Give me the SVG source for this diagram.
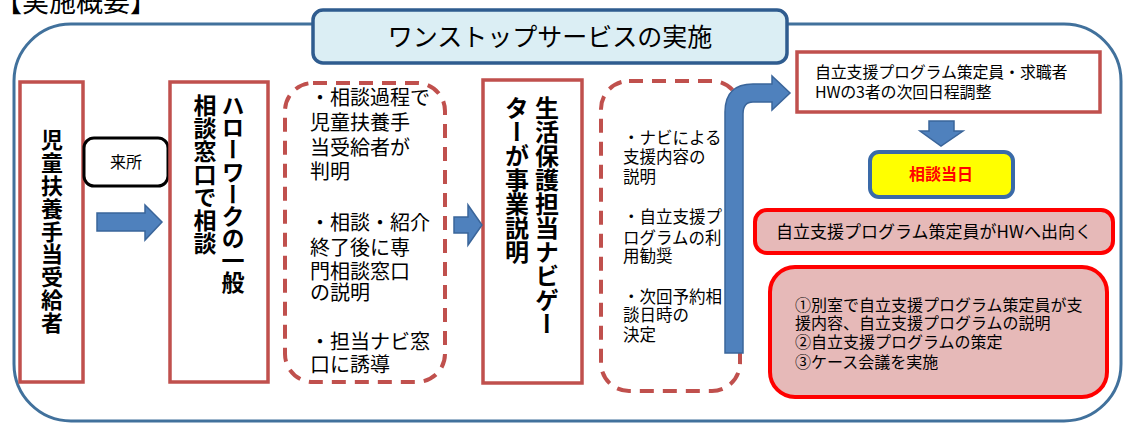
<svg xmlns="http://www.w3.org/2000/svg" width="1126" height="423" viewBox="0 0 1126 423">
<style>
text{font-family:"Noto Sans CJK JP","Noto Sans",sans-serif;fill:#000}
.box{fill:#fff;stroke:#c0504d;stroke-width:3.5}
.dash{fill:#fff;stroke:#c0504d;stroke-width:4;stroke-dasharray:14 9}
.pink{fill:#e6b9b8;stroke:#ff0000;stroke-width:4}
.arrow{fill:#4f81bd;stroke:#3a659a;stroke-width:1.5}
.vt{writing-mode:vertical-rl;font-weight:bold}
</style>
<rect width="1126" height="423" fill="#fff"/>
<text x="-5" y="12" font-size="27">【実施概要】</text>
<rect id="frame" x="14" y="24" width="1107" height="397" rx="57" fill="none" stroke="#41719c" stroke-width="3"/>
<g id="title">
<rect x="313" y="10" width="474" height="53" rx="10" fill="#dbeef4" stroke="#2f5c8f" stroke-width="3.5"/>
<text x="550" y="46" font-size="25" text-anchor="middle">ワンストップサービスの実施</text>
</g>
<g id="recipient">
<rect class="box" x="20" y="82" width="63" height="300"/>
<text class="vt" x="52" y="129" font-size="22" letter-spacing="0.8">児童扶養手当受給者</text>
</g>
<g id="visit">
<rect x="84" y="138" width="84" height="48" rx="10" fill="#fff" stroke="#000" stroke-width="3"/>
<text x="126" y="168" font-size="16" text-anchor="middle">来所</text>
</g>
<g id="hellowork">
<rect class="box" x="170" y="82" width="98" height="300"/>
<text class="vt" x="233" y="94" font-size="23" letter-spacing="-0.9">ハローワークの一般</text>
<text class="vt" x="205" y="94" font-size="23">相談窓口で相談</text>
</g>
<g id="notes1">
<rect class="dash" x="285" y="83" width="160" height="299" rx="28"/>
<text font-size="20">
<tspan x="310" y="105">・相談過程で</tspan>
<tspan x="310" y="130">児童扶養手</tspan>
<tspan x="310" y="155">当受給者が</tspan>
<tspan x="310" y="179">判明</tspan>
<tspan x="310" y="230">・相談・紹介</tspan>
<tspan x="310" y="255">終了後に専</tspan>
<tspan x="310" y="279">門相談窓口</tspan>
<tspan x="310" y="300">の説明</tspan>
<tspan x="310" y="349">・担当ナビ窓</tspan>
<tspan x="310" y="372">口に誘導</tspan>
</text>
</g>
<g id="navigator">
<rect class="box" x="483" y="80" width="99" height="303"/>
<text class="vt" x="547" y="96" font-size="24">生活保護担当ナビゲー</text>
<text class="vt" x="517" y="96" font-size="24">ターが事業説明</text>
</g>
<g id="notes2">
<rect class="dash" x="601" y="81" width="139" height="310" rx="28"/>
<text font-size="16.5">
<tspan x="623" y="144">・ナビによる</tspan>
<tspan x="623" y="163">支援内容の</tspan>
<tspan x="623" y="183">説明</tspan>
<tspan x="623" y="223">・自立支援プ</tspan>
<tspan x="623" y="244">ログラムの利</tspan>
<tspan x="623" y="262">用勧奨</tspan>
<tspan x="623" y="303">・次回予約相</tspan>
<tspan x="623" y="321">談日時の</tspan>
<tspan x="623" y="341">決定</tspan>
</text>
</g>
<g id="schedule">
<rect class="box" x="797" y="52" width="303" height="60"/>
<text font-size="16" letter-spacing="-0.2">
<tspan x="815" y="78">自立支援プログラム策定員・求職者</tspan>
<tspan x="815" y="98">HWの3者の次回日程調整</tspan>
</text>
</g>
<g id="day">
<rect x="870" y="152" width="143" height="45" rx="9" fill="#ffff00" stroke="#3a6aa8" stroke-width="4"/>
<text x="941" y="180" font-size="16" font-weight="bold" text-anchor="middle" style="fill:#ff0000">相談当日</text>
</g>
<g id="visitHW">
<rect class="pink" x="755" y="210" width="358" height="43" rx="12"/>
<text x="934" y="238" font-size="17" text-anchor="middle">自立支援プログラム策定員がHWへ出向く</text>
</g>
<g id="meeting">
<rect class="pink" x="770" y="267" width="337" height="130" rx="25"/>
<text font-size="16">
<tspan x="795" y="311">①別室で自立支援プログラム策定員が支</tspan>
<tspan x="795" y="329">援内容、自立支援プログラムの説明</tspan>
<tspan x="795" y="348">②自立支援プログラムの策定</tspan>
<tspan x="795" y="368">③ケース会議を実施</tspan>
</text>
</g>
<g id="connectors">
<path class="arrow" d="M97,213 H145 V205 L162,222 L145,240 V231 H97 Z"/>
<path class="arrow" d="M454,217 H468 V205 L482,225 L468,245 V233 H454 Z"/>
<path class="arrow" d="M725,353 V112 Q725,84 753,84 H772 V76 L790,93 L772,110 V102 H753 Q743,102 743,114 V353 Z"/>
<path class="arrow" d="M929,121 H954 V131 H963 L941,146 L920,131 H929 Z"/>
</g>
</svg>
